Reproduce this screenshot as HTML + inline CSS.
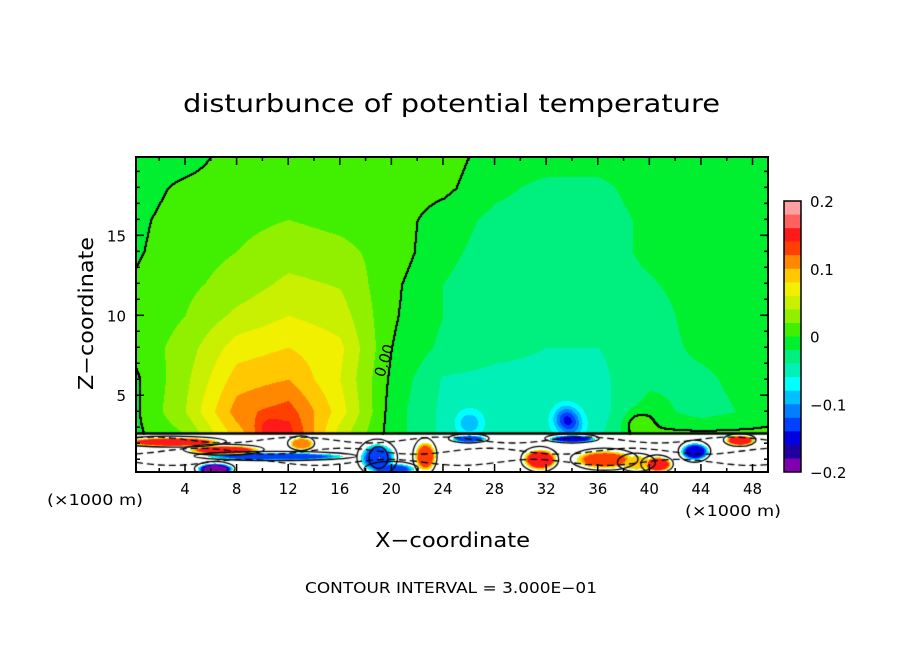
<!DOCTYPE html>
<html><head><meta charset="utf-8">
<style>
html,body{margin:0;padding:0;background:#fff;}
#wrap{position:relative;width:904px;height:654px;overflow:hidden;font-family:"DejaVu Sans","Liberation Sans",sans-serif;}
#field{position:absolute;left:136px;top:157px;}
svg{position:absolute;left:0;top:0;}
</style></head>
<body>
<div id="wrap">
<canvas id="field" width="632" height="315"></canvas>
<svg id="svg" width="904" height="654"></svg>
</div>
<script>
// ---- data ----
const gridX = [0,4,8,12,16,20,24,28,32,36,40,44,48,50];
const gridZ = [2.6,4,6,8,10,12,14,16,18,20];
// values in units of 0.01 K, rows follow gridZ
const gridV = [
 [-0.5,2,9,15,5,-1,-4.5,-5,-5,-4.5,0.5,0.5,0.5,0.5],
 [-0.5,4,11,13,7,-1,-4.5,-5,-4.5,-5,-1,-3,-1.5,-0.5],
 [-0.5,3.5,9,10,6,-0.5,-4.2,-4.5,-4.5,-4.5,-2.5,-2.5,-1,0],
 [0.5,3,7,8,6.5,0,-2.5,-3.5,-4,-4,-3,-1.5,-1,-1],
 [0.3,2,4.5,6,5,0.3,-2,-3,-3,-3,-3,-1,-1,-1],
 [0.2,1.5,2.8,4.5,3.8,0.5,-2,-3,-3,-3,-2.2,-1,-1,-1],
 [-0.3,1.2,2,3,2.5,1.2,-1.5,-2.8,-3,-3,-1.5,-1,-1,-1],
 [-0.5,1,1.5,2,1.5,1,-1,-2.5,-3,-3,-1.5,-1,-1,-1],
 [-1,0.5,1,1,1,1,0.5,-1.5,-2.5,-2.5,-1,-1,-1,-1],
 [-1,-1,1,1,1,1,1,-1,-1,-1,-1,-1,-1,-1]
];
// localized extrema (x km, z km, amplitude 0.01 K)
const bumpX = [26,33.5,34,10.5,39];
const bumpZ = [3.3,3.6,3.0,2.9,3.2];
const bumpA = [-5,-8,-4,3,3];
// near-surface streaks below 2.6 km (x, z, half-width km, half-height km, value 0.01K)
const streakX = [3,7,6.3,11,13,18.9,19,22.6,26,31.5,36.5,39,40.6,43.5,47,20,34];
const streakZ = [2.1,1.6,0.4,1.2,2.0,1.1,1.1,1.2,2.3,1.0,1.0,0.8,0.7,1.5,2.2,0.4,2.3];
const streakW = [4,3,1.5,6,1,1.5,0.7,0.9,1.5,1.4,2.5,1.4,1.2,1.2,1.2,2,2];
const streakH = [0.3,0.3,0.4,0.25,0.4,1.0,0.6,1.0,0.25,0.7,0.6,0.5,0.5,0.6,0.35,0.4,0.25];
const streakV = [16,15,-18,-13,12,-12,17,13,-12,16,13,10,16,-14,16,-12,-14];
const lineZ = [0.8,1.5,2.2];
const cbLevels = [0.2,0.1,0,-0.1,-0.2];
const cbLabels = ["0.2","0.1","0","\u22120.1","\u22120.2"];
const cbColors = ["#ffa0a0","#ff6060","#ff1a1a","#ff4000","#ff8800","#ffc800","#f0f000","#c8f000","#90f000","#40f000","#00f030","#00f080","#00f0b8","#00ffff","#00c0ff","#0080ff","#0040ff","#0000e0","#2000a0","#8000b0"];
const xTicks = [4,8,12,16,20,24,28,32,36,40,44,48];
const zTicks = [5,10,15];

// ---- scales ----
const PL=136,PR=768,PT=157,PB=472,X0=0.2,X1=49.2,Z0=0.2,Z1=19.9;
const sx=x=>PL+(x-X0)/(X1-X0)*(PR-PL);
const sz=z=>PB-(z-Z0)/(Z1-Z0)*(PB-PT);
const ix=px=>X0+px/(PR-PL)*(X1-X0);
const iz=py=>Z1-py/(PB-PT)*(Z1-Z0);
function interp(arr,v){let i=0;while(i<arr.length-2&&v>arr[i+1])i++;let t=(v-arr[i])/(arr[i+1]-arr[i]);return [i,Math.max(0,Math.min(1,t))];}
function fieldAt(x,z){
  const [i,tx]=interp(gridX,x),[j,tz]=interp(gridZ,z);
  let v=(gridV[j][i]*(1-tx)+gridV[j][i+1]*tx)*(1-tz)+(gridV[j+1][i]*(1-tx)+gridV[j+1][i+1]*tx)*tz;
  for(let k=0;k<bumpX.length;k++){const dx=(x-bumpX[k])/1.0,dz=(z-bumpZ[k])/0.8;v+=bumpA[k]*Math.exp(-(dx*dx+dz*dz));}
  return v/100;
}
function color(v){let s=Math.floor((0.2-v)/0.02);s=Math.max(0,Math.min(19,s));return cbColors[s];}
function hex(c){return [parseInt(c.substr(1,2),16),parseInt(c.substr(3,2),16),parseInt(c.substr(5,2),16)];}
const cv=document.getElementById('field'),ctx=cv.getContext('2d');
const W=632,H=315,img=ctx.createImageData(W,H);
const vals=new Float32Array(W*H);
for(let py=0;py<H;py++)for(let px=0;px<W;px++){
  const x=ix(px),z=iz(py);let rgb;
  if(z>=2.6){const v=fieldAt(x,z);vals[py*W+px]=v;rgb=hex(color(v));}
  else{
    vals[py*W+px]=NaN;let best=null,bw=0;
    for(let k=0;k<streakX.length;k++){const dx=(x-streakX[k])/streakW[k],dz=(z-streakZ[k])/streakH[k];const d=dx*dx+dz*dz;if(d<1){const w=(1-d);if(w>bw){bw=w;best=k;}}}
    if(best===null)rgb=[255,255,255];
    else{const v=streakV[best]/100*Math.min(1,bw*1.6);rgb=Math.abs(v)<0.05?[255,255,255]:hex(color(v));}
  }
  const o=(py*W+px)*4;img.data[o]=rgb[0];img.data[o+1]=rgb[1];img.data[o+2]=rgb[2];img.data[o+3]=255;
}
// zero contour (2px wide)
const mark=[];
for(let py=0;py<H-1;py++)for(let px=0;px<W-1;px++){
  const a=vals[py*W+px],b=vals[py*W+px+1],c=vals[(py+1)*W+px];
  if(isNaN(a))continue;
  if((!isNaN(b)&&(a>0)!==(b>0))||(!isNaN(c)&&(a>0)!==(c>0)))mark.push([px,py]);
}
mark.forEach(([px,py])=>{for(const [qx,qy] of [[0,0],[1,0],[0,1],[1,1]]){const o=((py+qy)*W+px+qx)*4;img.data[o]=0;img.data[o+1]=0;img.data[o+2]=0;}});
ctx.putImageData(img,0,0);
// surface boundary line & near-surface contour lines
ctx.strokeStyle='#000';ctx.lineWidth=2.5;ctx.beginPath();ctx.moveTo(0,sz(2.6)-PT);ctx.lineTo(W,sz(2.6)-PT);ctx.stroke();
ctx.lineWidth=1.3;
for(let k=0;k<streakX.length;k++){ctx.beginPath();ctx.ellipse(sx(streakX[k])-PL,sz(streakZ[k])-PT,streakW[k]*12.9*1.05,streakH[k]*16*1.15,0,0,Math.PI*2);ctx.stroke();}
ctx.setLineDash([7,4]);
lineZ.forEach((z,j)=>{ctx.beginPath();for(let px=0;px<=W;px+=4){const py=sz(z)-PT+3*Math.sin(px/23+j*2);px===0?ctx.moveTo(px,py):ctx.lineTo(px,py);}ctx.stroke();});
ctx.setLineDash([]);

// ---- svg ----
const NS='http://www.w3.org/2000/svg',svg=document.getElementById('svg');
function el(t,a,txt){const e=document.createElementNS(NS,t);for(const k in a)e.setAttribute(k,a[k]);if(txt!==undefined)e.textContent=txt;svg.appendChild(e);return e;}
let e;
e=el('rect',{x:PL,y:PT,width:PR-PL,height:PB-PT,fill:'none',stroke:'#000','stroke-width':2});


for(let x=2;x<=48;x+=2){const L=(x%4===0)?8:4;
  e=el('line',{x1:sx(x),x2:sx(x),y1:PB,y2:PB-L,stroke:'#000','stroke-width':1.5});
  
  
  e=el('line',{x1:sx(x),x2:sx(x),y1:PT,y2:PT+L,stroke:'#000','stroke-width':1.5});
  
  }
for(let z=1;z<=19;z++){const L=(z%5===0)?8:4;
  e=el('line',{x1:PL,x2:PL+L,y1:sz(z),y2:sz(z),stroke:'#000','stroke-width':1.5});
  
  
  e=el('line',{x1:PR,x2:PR-L,y1:sz(z),y2:sz(z),stroke:'#000','stroke-width':1.5});
  
  }
xTicks.forEach(x=>{e=el('text',{x:sx(x),y:494,'font-size':15,'text-anchor':'middle'},String(x));
  
  });
zTicks.forEach(z=>{e=el('text',{x:126,y:sz(z)+6,'font-size':15,'text-anchor':'end'},String(z));
  
  });
e=el('text',{x:47,y:505,'font-size':15,textLength:96,lengthAdjust:'spacingAndGlyphs'},'(\u00d71000 m)');


e=el('text',{x:685,y:516,'font-size':15,textLength:96,lengthAdjust:'spacingAndGlyphs'},'(\u00d71000 m)');


e=el('text',{x:183,y:112,'font-size':25,textLength:537,lengthAdjust:'spacingAndGlyphs'},'disturbunce of potential temperature');


e=el('text',{x:375,y:547,'font-size':20,textLength:155,lengthAdjust:'spacingAndGlyphs'},'X\u2212coordinate');


e=el('text',{x:0,y:0,'font-size':20,textLength:153,lengthAdjust:'spacingAndGlyphs',transform:'translate(93,390) rotate(-90)'},'Z\u2212coordinate');


e=el('text',{x:305,y:593,'font-size':15,textLength:292,lengthAdjust:'spacingAndGlyphs'},'CONTOUR INTERVAL = 3.000E\u221201');


e=el('text',{x:0,y:0,'font-size':15,transform:'translate(384,378) rotate(-72)'},'0.00');


// colorbar
const CT=201,CB=472,CL=784,CW=17,segH=(CB-CT)/cbColors.length;
cbColors.forEach((c,i)=>{e=el('rect',{x:CL,y:CT+i*segH,width:CW,height:segH+0.3,fill:c});
  
  });
e=el('rect',{x:CL,y:CT,width:CW,height:CB-CT,fill:'none',stroke:'#000','stroke-width':1.5});


const cy=v=>CT+(0.2-v)/0.4*(CB-CT);
cbLevels.forEach((v,i)=>{e=el('text',{x:810,y:cy(v)+6,'font-size':15},cbLabels[i]);
  
  });
</script>
</body></html>
